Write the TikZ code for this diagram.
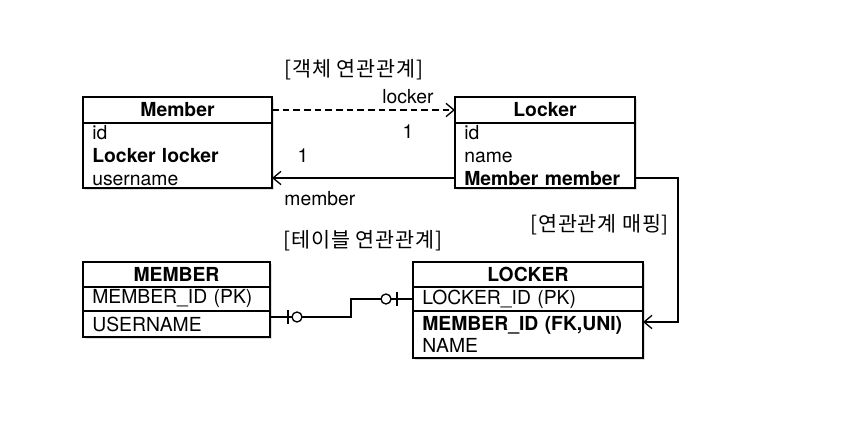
\documentclass[tikz,border=0pt]{standalone}
\usepackage{fontspec}
\setmainfont{TeX Gyre Heros}
\newfontfamily\kr[LetterSpace=4]{Noto Sans CJK KR}
\usetikzlibrary{arrows.meta, positioning, shadows}

\begin{document}
\begin{tikzpicture}[
    x=0.75pt, y=-0.75pt,
    font=\fontsize{14.5}{17.25}\selectfont,
    shade/.style={drop shadow={opacity=0.25, shadow xshift=1.2pt, shadow yshift=-1.2pt}},
    head/.style={rectangle, draw, line width=1.2pt, fill=white, outer sep=0pt, inner sep=0pt, align=center, font=\fontsize{14.5}{17.25}\selectfont\bfseries, text width=#1, shade},
    rows/.style={rectangle, draw, line width=1.2pt, fill=white, outer sep=0pt, inner xsep=7pt, inner ysep=0pt, align=left, text width=#1, shade},
    arr/.style={-{Straight Barb[length=6pt, width=10pt]}, line width=1pt},
    lbl/.style={font=\kr\fontsize{15.5}{17}\selectfont},
]
\useasboundingbox (0,0) rectangle (850,445);

% objects
\node[head=141.75pt, minimum height=19.5pt] (mhead) at (177.5,110) {Member};
\node[rows=127.75pt, minimum height=48.75pt, below=0pt of mhead] (mbody) {id\\\textbf{Locker locker}\\username};
\node[head=135pt, minimum height=19.5pt] (lhead) at (545,110) {Locker};
\node[rows=121pt, minimum height=48.75pt, below=0pt of lhead] (lbody) {id\\name\\\textbf{Member member}};

% tables
\node[head=140.25pt, minimum height=18.75pt] (thead) at (176.5,274.5) {MEMBER};
\node[rows=126.25pt, minimum height=18pt, below=0pt of thead] (tmid) {MEMBER\_ID (PK)};
\node[rows=126.25pt, minimum height=19.5pt, below=0pt of tmid] (tmname) {USERNAME};
\node[head=172.5pt, minimum height=18.75pt] (uhead) at (528,274.5) {LOCKER};
\node[rows=158.5pt, minimum height=18pt, below=0pt of uhead] (ulid) {LOCKER\_ID (PK)};
\node[rows=158.5pt, minimum height=35.25pt, below=0pt of ulid, font=\fontsize{14.5}{16.5}\selectfont] (ubody) {\textbf{MEMBER\_ID (FK,UNI)}\\NAME};

\node[lbl] (objlbl) at (354,70) {[객체 연관관계]};
\node[lbl] (tbllbl) at (363,241) {[테이블 연관관계]};

% object links
\draw[arr, dash pattern=on 5pt off 3pt] (mhead.east) -- node[pos=.743, yshift=9.75pt] {locker} node[pos=.743, yshift=-16.5pt] {1} (lhead.west);
\draw[arr] ([yshift=7.5pt]lbody.south west) -- node[pos=.83, yshift=16.5pt] {1} node[pos=.738, yshift=-15.75pt] {member} ([yshift=7.5pt]mbody.south east);

% mapping
\draw[arr] ([yshift=7.5pt]lbody.south east) -- ++(32.25pt,0) |- node[lbl, pos=.163, left=3pt] {[연관관계 매핑]} ([yshift=-8.25pt]ubody.north east);

% table link
\coordinate (mfk) at ([yshift=-4.5pt]tmname.north east);
\draw[line width=1pt] (mfk) -- ++(60.75pt,0) |- (ulid.west);
\draw[line width=1pt] ([xshift=13.5pt]mfk) +(0,5.25pt) -- +(0,-5.25pt);
\draw[line width=1pt, fill=white] ([xshift=20.25pt]mfk) circle (3.75pt);
\draw[line width=1pt] ([xshift=-12pt]ulid.west) +(0,5.25pt) -- +(0,-5.25pt);
\draw[line width=1pt, fill=white] ([xshift=-20.25pt]ulid.west) circle (3.75pt);
\end{tikzpicture}
\end{document}
